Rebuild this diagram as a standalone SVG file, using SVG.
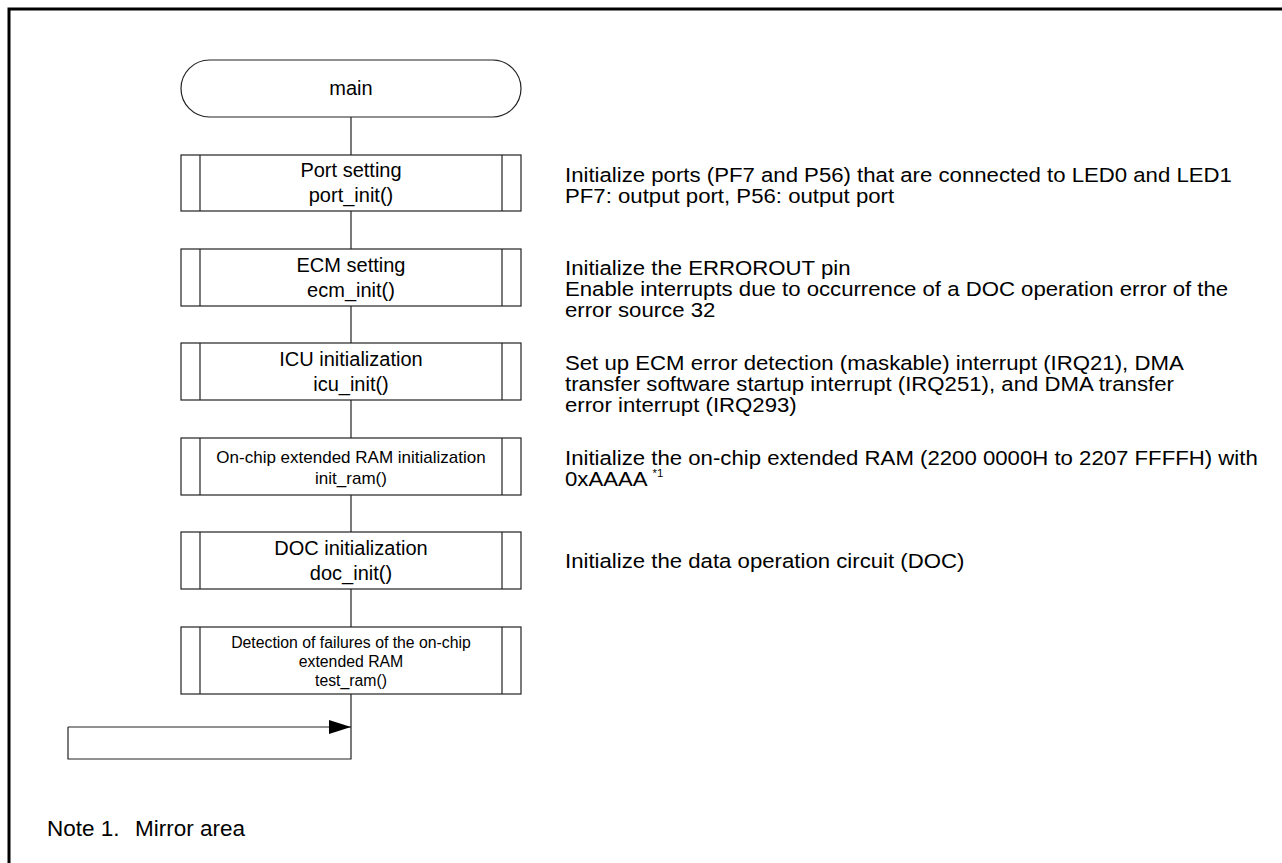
<svg xmlns="http://www.w3.org/2000/svg" width="1282" height="863" viewBox="0 0 1282 863">
<style>
.shape{fill:#fff;stroke:#222;stroke-width:1.2}
.line{fill:none;stroke:#222;stroke-width:1.2}
.t{font-family:"Liberation Sans",Arial,sans-serif;font-size:20px;fill:#000}
.c{text-anchor:middle}
.s{font-size:17px}
.s2{font-size:15.8px}
.d{font-family:"Liberation Sans",Arial,sans-serif;font-size:19.5px;fill:#000}
.n{font-family:"Liberation Sans",Arial,sans-serif;font-size:22.5px;fill:#000}
</style>
<defs>
<marker id="ah" markerWidth="22" markerHeight="14" refX="22" refY="7" orient="auto" markerUnits="userSpaceOnUse">
<path d="M0,0 L22,7 L0,14 Z" fill="#000"/>
</marker>
</defs>
<rect x="9" y="9" width="1290" height="870" fill="none" stroke="#000" stroke-width="3"/>
<g id="connectors">
<path class="line" d="M351,117 V155 M351,211 V249 M351,306 V343 M351,400 V438 M351,495 V532 M351,589 V627 M351,694 V759 H68 V727"/>
<path class="line" d="M68,727 H351" marker-end="url(#ah)"/>
</g>
<g id="main">
<rect class="shape" x="181" y="60" width="340" height="57" rx="28.5" ry="28.5"/>
<text class="t c" x="351" y="95">main</text>
</g>
<g id="port_init">
<rect class="shape" x="181" y="155" width="340" height="56"/>
<path class="line" d="M200,155 V211 M502,155 V211"/>
<text class="t c" x="351" y="177">Port setting</text>
<text class="t c" x="351" y="202">port_init()</text>
</g>
<g id="ecm_init">
<rect class="shape" x="181" y="249" width="340" height="57"/>
<path class="line" d="M200,249 V306 M502,249 V306"/>
<text class="t c" x="351" y="272">ECM setting</text>
<text class="t c" x="351" y="297">ecm_init()</text>
</g>
<g id="icu_init">
<rect class="shape" x="181" y="343" width="340" height="57"/>
<path class="line" d="M200,343 V400 M502,343 V400"/>
<text class="t c" x="351" y="366">ICU initialization</text>
<text class="t c" x="351" y="391">icu_init()</text>
</g>
<g id="init_ram">
<rect class="shape" x="181" y="438" width="340" height="57"/>
<path class="line" d="M200,438 V495 M502,438 V495"/>
<text class="t c s" x="351" y="463">On-chip extended RAM initialization</text>
<text class="t c s" x="351" y="484">init_ram()</text>
</g>
<g id="doc_init">
<rect class="shape" x="181" y="532" width="340" height="57"/>
<path class="line" d="M200,532 V589 M502,532 V589"/>
<text class="t c" x="351" y="555">DOC initialization</text>
<text class="t c" x="351" y="580">doc_init()</text>
</g>
<g id="test_ram">
<rect class="shape" x="181" y="627" width="340" height="67"/>
<path class="line" d="M200,627 V694 M502,627 V694"/>
<text class="t c s2" x="351" y="648">Detection of failures of the on-chip</text>
<text class="t c s2" x="351" y="667">extended RAM</text>
<text class="t c s2" x="351" y="686">test_ram()</text>
</g>
<g id="descriptions" transform="translate(565 0) scale(1.138 1)">
<text class="d" x="0" y="182">Initialize ports (PF7 and P56) that are connected to LED0 and LED1</text>
<text class="d" x="0" y="203">PF7: output port, P56: output port</text>
<text class="d" x="0" y="275">Initialize the ERROROUT pin</text>
<text class="d" x="0" y="296">Enable interrupts due to occurrence of a DOC operation error of the</text>
<text class="d" x="0" y="317">error source 32</text>
<text class="d" x="0" y="370">Set up ECM error detection (maskable) interrupt (IRQ21), DMA</text>
<text class="d" x="0" y="391">transfer software startup interrupt (IRQ251), and DMA transfer</text>
<text class="d" x="0" y="412">error interrupt (IRQ293)</text>
<text class="d" x="0" y="465">Initialize the on-chip extended RAM (2200 0000H to 2207 FFFFH) with</text>
<text class="d" x="0" y="486">0xAAAA <tspan font-size="10" dy="-9">*1</tspan></text>
<text class="d" x="0" y="568">Initialize the data operation circuit (DOC)</text>
</g>
<g id="note">
<text class="n" x="47" y="836">Note 1.</text>
<text class="n" x="135" y="836">Mirror area</text>
</g>
</svg>
